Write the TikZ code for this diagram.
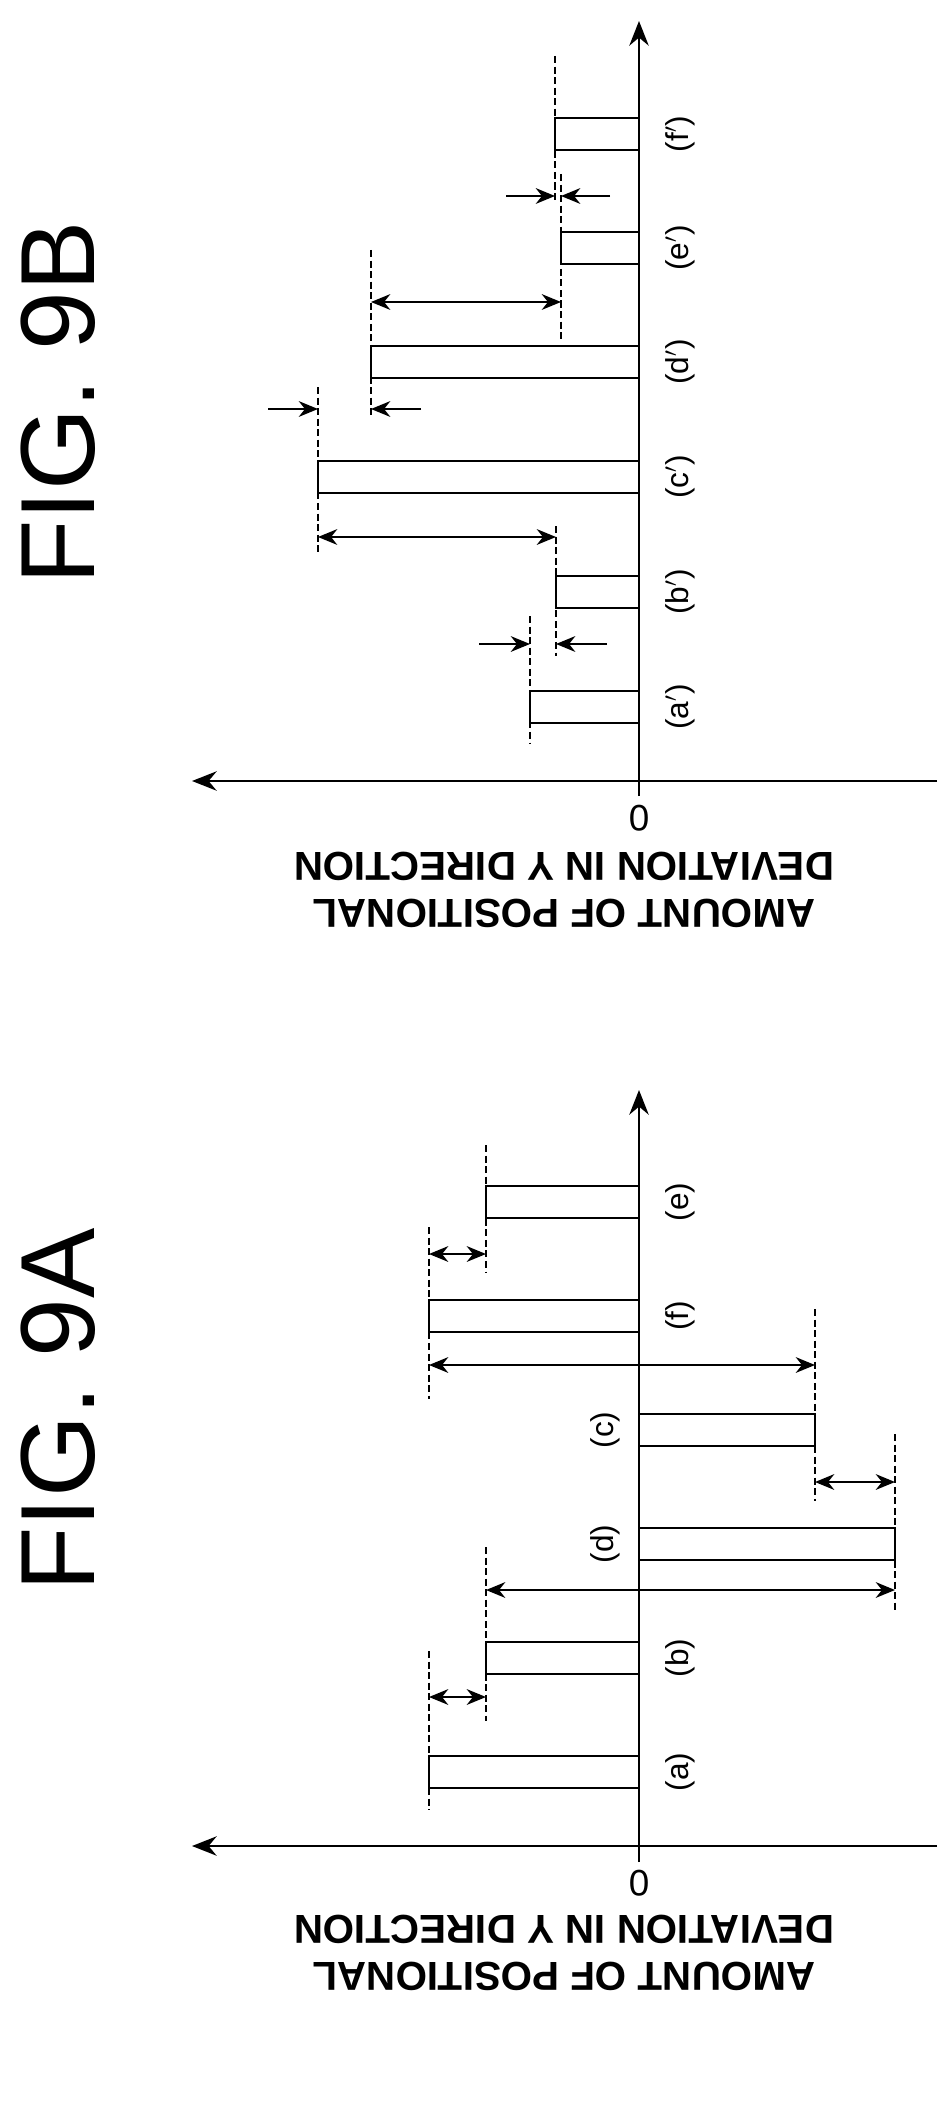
\documentclass[tikz,border=0pt]{standalone}
\usepackage{fontspec}
\setmainfont{Liberation Sans}
\usetikzlibrary{arrows.meta}
\tikzset{
  axisline/.style={line width=1.5pt,-{Stealth[length=14pt,width=11pt]}},
  barbox/.style={draw,line width=1.6pt},
  guide/.style={line width=0.7pt,dash pattern=on 4pt off 2pt},
  dimline/.style={line width=0.9pt,{Stealth[length=11pt,width=9pt]}-{Stealth[length=11pt,width=9pt]}},
  inarrow/.style={line width=0.9pt,-{Stealth[length=11pt,width=9pt]}},
  barlabel/.style={rotate=90,font=\fontsize{18}{20}\selectfont},
  figtitle/.style={rotate=90,font=\fontsize{60}{62}\selectfont},
  axislabel/.style={rotate=180,align=center,font=\bfseries\fontsize{23}{27}\selectfont},
}
\begin{document}
\begin{tikzpicture}[x=0.02cm,y=-0.02cm]
  \useasboundingbox (0,0) rectangle (952,2105);
  %FIG 9B
  \node[figtitle] (T9B) at (58,403) {FIG. 9B};
  \draw[axisline] (639,796) -- (639,21);
  \draw[axisline] (937,781) -- (192,781);
  \node[rotate=180,font=\fontsize{21}{22}\selectfont] (O9B) at (639,818) {0};
  \node[axislabel] (L9B) at (564,890) {AMOUNT OF POSITIONAL\\DEVIATION IN Y DIRECTION};
  %BARS 9B
  \foreach \y/\v/\n in {707/109/a,592/83/b,477/321/c,362/268/d,248/78/e,134/84/f}{
    \draw[barbox] (639,\y-16) rectangle (639-\v,\y+16);
    \coordinate (B\n) at (639-\v,\y);
    \node[barlabel] (P\n) at (680,\y) {(\n$'$)};
  }
  %DASHES 9B
  \draw[guide] (530,616) -- (530,744);
  \draw[guide] (556,526) -- (556,656);
  \draw[guide] (318,387) -- (318,552);
  \draw[guide] (371,250) -- (371,415);
  \draw[guide] (561,174) -- (561,339);
  \draw[guide] (555,56) -- (555,201);
  %ARROWS 9B
  \draw[inarrow] (479,644) -- (530,644);
  \draw[inarrow] (607,644) -- (556,644);
  \draw[dimline] (318,537) -- (556,537);
  \draw[inarrow] (268,409) -- (318,409);
  \draw[inarrow] (421,409) -- (371,409);
  \draw[dimline] (371,302) -- (561,302);
  \draw[inarrow] (506,196) -- (555,196);
  \draw[inarrow] (610,196) -- (561,196);

  %FIG 9A
  \node[figtitle] (T9A) at (58,1410) {FIG. 9A};
  \draw[axisline] (639,1862) -- (639,1090);
  \draw[axisline] (937,1846) -- (192,1846);
  \node[rotate=180,font=\fontsize{21}{22}\selectfont] (O9A) at (639,1883) {0};
  \node[axislabel] (L9A) at (564,1953) {AMOUNT OF POSITIONAL\\DEVIATION IN Y DIRECTION};
  %BARS 9A
  \foreach \y/\v/\n in {1772/210/a,1658/153/b,1544/-256/d,1430/-176/c,1316/210/f,1202/153/e}{
    \draw[barbox] (639,\y-16) rectangle (639-\v,\y+16);
    \pgfmathsetmacro{\lx}{\v>0 ? 680 : 605}
    \node[barlabel] (Q\n) at (\lx,\y) {(\n)};
  }
  %DASHES 9A
  \draw[guide] (429,1651) -- (429,1810);
  \draw[guide] (486,1547) -- (486,1721);
  \draw[guide] (895,1434) -- (895,1611);
  \draw[guide] (815,1309) -- (815,1501);
  \draw[guide] (429,1227) -- (429,1399);
  \draw[guide] (486,1145) -- (486,1273);
  %ARROWS 9A
  \draw[dimline] (429,1697) -- (486,1697);
  \draw[dimline] (486,1590) -- (895,1590);
  \draw[dimline] (815,1482) -- (895,1482);
  \draw[dimline] (429,1365) -- (815,1365);
  \draw[dimline] (429,1254) -- (486,1254);
\end{tikzpicture}
\end{document}
